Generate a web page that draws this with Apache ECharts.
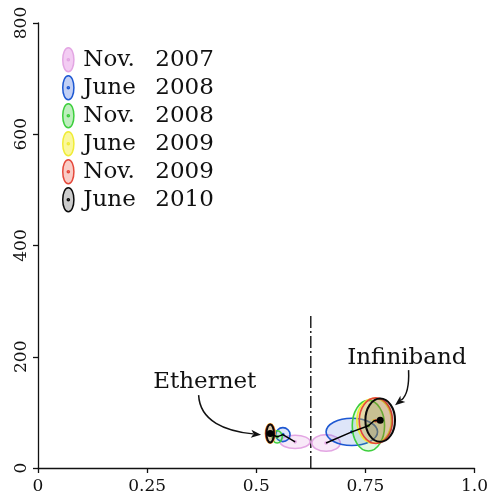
<!DOCTYPE html>
<html>
<head>
<meta charset="utf-8">
<script src="https://cdn.jsdelivr.net/npm/echarts@6/dist/echarts.min.js"></script>
<style>
  html, body { margin: 0; padding: 0; background: #ffffff; }
  #chart { width: 491px; height: 497px; }
</style>
</head>
<body>
<div id="chart"></div>
<script>
// Snapshot dates (one ellipse per date and interconnect family)
const periods = ['Nov. 2007', 'June 2008', 'Nov. 2008', 'June 2009', 'Nov. 2009', 'June 2010'];

// Ethernet systems: centre (x, y) and full spread (w, h) per snapshot
const ethX = [0.589, 0.561, 0.548, 0.532, 0.532, 0.532];
const ethY = [47, 60, 56, 62, 62, 62];
const ethW = [0.069, 0.033, 0.023, 0.022, 0.021, 0.017];
const ethH = [24, 25, 22, 35, 34, 32];

// Infiniband systems: centre (x, y) and full spread (w, h) per snapshot
const ibX = [0.660, 0.719, 0.757, 0.770, 0.774, 0.784];
const ibY = [45, 65, 76, 85, 85, 86];
const ibW = [0.065, 0.118, 0.074, 0.079, 0.076, 0.068];
const ibH = [30, 49, 91, 81, 82, 78];

// Axis ticks
const xTicks = [0, 0.25, 0.5, 0.75, 1.0];
const xTickLabels = ['0', '0.25', '0.5', '0.75', '1.0'];
const yTicks = [0, 200, 400, 600, 800];
const yTickLabels = ['0', '200', '400', '600', '800'];

// Dash-dot divider
const dividerX = 0.625;
const dividerTop = 275;

// Annotation labels
const noteText = ['Ethernet', 'Infiniband'];

// ---- styling and layout below ----
const strokeColors = ['#e3a6e3', '#1d58d2', '#3dcf3d', '#f0ec36', '#e5493b', '#0a0a0a'];
const fillColors = [
  'rgba(230,175,230,0.28)', 'rgba(70,110,220,0.18)', 'rgba(70,210,70,0.16)',
  'rgba(245,240,60,0.22)', 'rgba(230,80,60,0.16)', 'rgba(0,0,0,0.12)'
];
const legendFills = [
  'rgba(235,170,235,0.6)', 'rgba(80,120,225,0.35)', 'rgba(70,210,70,0.35)',
  'rgba(245,240,60,0.5)', 'rgba(235,90,70,0.3)', 'rgba(0,0,0,0.2)'
];

// annotation geometry in data units: label anchor and bezier arrow (start, ctrl1, ctrl2, tip)
const noteLayout = [
  { at: [0.382, 155], arrow: [[0.368, 131], [0.371, 84], [0.430, 66], [0.511, 60]] },
  { at: [0.845, 198], arrow: [[0.849, 176], [0.851, 141], [0.842, 128], [0.818, 113]] }
];

const serifFont = '"DejaVu Serif", "Liberation Serif", serif';
const axisColor = '#111';

const ellipseIcon = 'path://M6,0.8 C9.1,0.8 11.2,5.8 11.2,12 C11.2,18.2 9.1,23.2 6,23.2 ' +
  'C2.9,23.2 0.8,18.2 0.8,12 C0.8,5.8 2.9,0.8 6,0.8 Z ' +
  'M6,11 A1,1 0 1 1 6,13 A1,1 0 1 1 6,11 Z';

function ellipseRenderer(idx) {
  return function (params, api) {
    const c = api.coord([api.value(0), api.value(1)]);
    const s = api.size([api.value(2), api.value(3)]);
    return {
      type: 'group',
      children: [
        {
          type: 'ellipse',
          shape: { cx: c[0], cy: c[1], rx: s[0] / 2, ry: s[1] / 2 },
          style: { fill: fillColors[idx], stroke: strokeColors[idx], lineWidth: idx === 5 ? 2 : 1.6 }
        },
        {
          type: 'circle',
          shape: { cx: c[0], cy: c[1], r: 1.8 },
          style: { fill: strokeColors[idx] }
        }
      ]
    };
  };
}

const ellipseSeries = periods.map((name, i) => ({
  name: name,
  type: 'custom',
  coordinateSystem: 'cartesian2d',
  z: 2,
  encode: { x: 0, y: 1 },
  data: [
    [ethX[i], ethY[i], ethW[i], ethH[i]],
    [ibX[i], ibY[i], ibW[i], ibH[i]]
  ],
  renderItem: ellipseRenderer(i),
  silent: true
}));

function trajectory(xs, ys) {
  const last = xs.length - 1;
  return {
    type: 'line',
    z: 3,
    data: xs.map((x, i) => [x, ys[i]]),
    symbol: 'circle',
    showSymbol: true,
    symbolSize: (v, p) => (p.dataIndex === last ? 7 : 0),
    itemStyle: { color: '#000' },
    lineStyle: { color: '#000', width: 1.5 },
    silent: true
  };
}

const dividerSeries = {
  type: 'line',
  z: 1,
  data: [[dividerX, 0], [dividerX, dividerTop]],
  symbol: 'none',
  lineStyle: { color: '#000', width: 1.3, type: [12, 3, 2, 3] },
  silent: true
};

const noteSeries = {
  type: 'custom',
  coordinateSystem: 'cartesian2d',
  z: 4,
  data: noteLayout.map(n => n.at),
  renderItem: function (params, api) {
    const n = noteLayout[params.dataIndex];
    const t = api.coord(n.at);
    const p = n.arrow.map(q => api.coord(q));
    const tip = p[3];
    const dx = tip[0] - p[2][0], dy = tip[1] - p[2][1];
    const len = Math.sqrt(dx * dx + dy * dy) || 1;
    const ux = dx / len, uy = dy / len;
    const headL = 10, headW = 4;
    const bx = tip[0] - ux * headL, by = tip[1] - uy * headL;
    return {
      type: 'group',
      children: [
        {
          type: 'text',
          style: {
            text: noteText[params.dataIndex], x: t[0], y: t[1],
            align: 'center', verticalAlign: 'middle',
            font: '23px ' + serifFont, fill: '#111'
          }
        },
        {
          type: 'bezierCurve',
          shape: {
            x1: p[0][0], y1: p[0][1], cpx1: p[1][0], cpy1: p[1][1],
            cpx2: p[2][0], cpy2: p[2][1],
            x2: bx + ux * 2, y2: by + uy * 2
          },
          style: { stroke: '#111', lineWidth: 1.5, fill: null }
        },
        {
          type: 'polygon',
          shape: {
            points: [
              [tip[0], tip[1]],
              [bx - uy * headW, by + ux * headW],
              [bx + ux * 2.5, by + uy * 2.5],
              [bx + uy * headW, by - ux * headW]
            ]
          },
          style: { fill: '#111' }
        }
      ]
    };
  },
  silent: true
};

const chart = echarts.init(document.getElementById('chart'), null, { renderer: 'canvas' });

chart.setOption({
  animation: false,
  backgroundColor: '#ffffff',
  grid: { left: 38, right: 13, top: 23, bottom: 29, containLabel: false },
  legend: {
    orient: 'vertical',
    left: 62,
    top: 47,
    padding: 0,
    itemWidth: 12,
    itemHeight: 24,
    itemGap: 2.5,
    selectedMode: false,
    formatter: name => {
      const parts = name.split(' ');
      return '{m|' + parts[0] + '}{y|' + parts[1] + '}';
    },
    textStyle: {
      fontFamily: serifFont,
      fontSize: 23,
      lineHeight: 24,
      color: '#111',
      padding: [0, 0, 0, 4],
      rich: {
        m: { fontFamily: serifFont, fontSize: 23, lineHeight: 24, color: '#111', width: 72 },
        y: { fontFamily: serifFont, fontSize: 23, lineHeight: 24, color: '#111' }
      }
    },
    data: periods.map((p, i) => ({
      name: p,
      icon: ellipseIcon,
      itemStyle: { color: legendFills[i], borderColor: strokeColors[i], borderWidth: 1.5 }
    }))
  },
  xAxis: {
    type: 'value',
    min: xTicks[0],
    max: xTicks[xTicks.length - 1],
    interval: xTicks[1] - xTicks[0],
    splitLine: { show: false },
    axisLine: { show: true, onZero: false, lineStyle: { color: axisColor, width: 1.3 } },
    axisTick: { show: true, length: 5, lineStyle: { color: axisColor, width: 1.3 } },
    axisLabel: {
      margin: 10,
      fontFamily: serifFont,
      fontSize: 17,
      color: axisColor,
      formatter: v => {
        const k = xTicks.findIndex(t => Math.abs(t - v) < 1e-9);
        return k >= 0 ? xTickLabels[k] : '';
      }
    }
  },
  yAxis: {
    type: 'value',
    min: yTicks[0],
    max: yTicks[yTicks.length - 1],
    interval: yTicks[1] - yTicks[0],
    splitLine: { show: false },
    axisLine: { show: true, onZero: false, lineStyle: { color: axisColor, width: 1.3 } },
    axisTick: { show: true, length: 5, lineStyle: { color: axisColor, width: 1.3 } },
    axisLabel: {
      rotate: 90,
      margin: 8,
      fontFamily: serifFont,
      fontSize: 17,
      color: axisColor,
      formatter: v => {
        const k = yTicks.indexOf(v);
        return k >= 0 ? yTickLabels[k] : '';
      }
    }
  },
  series: [dividerSeries]
    .concat(ellipseSeries)
    .concat([trajectory(ethX, ethY), trajectory(ibX, ibY), noteSeries])
});
</script>
</body>
</html>
